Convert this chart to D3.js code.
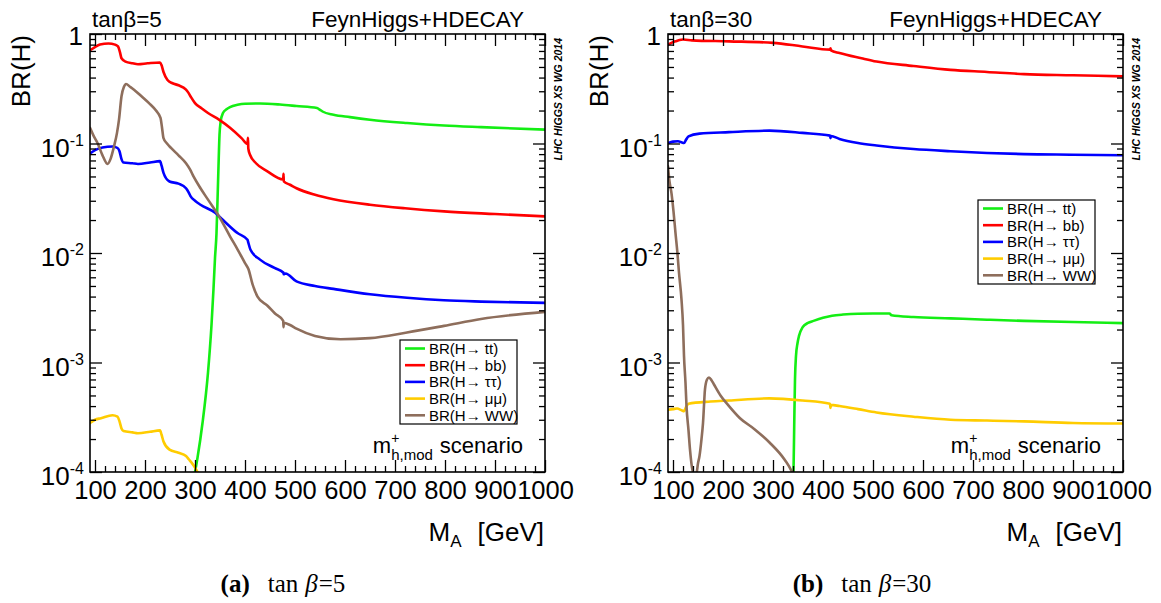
<!DOCTYPE html>
<html><head><meta charset="utf-8">
<script src="https://cdn.jsdelivr.net/npm/d3@7"></script>
<style>
body{margin:0;background:#fff;}
svg text{font-family:"Liberation Sans",Arial,Helvetica,sans-serif;}
</style></head><body>
<svg id="chart" width="1161" height="603"></svg>
<script>
// ---------------- data ----------------
const massDomain = [90, 1000];
const brDomain = [1e-4, 1];
const massTicks = [100, 200, 300, 400, 500, 600, 700, 800, 900, 1000];
const minorMassTicks = [120,140,160,180,220,240,260,280,320,340,360,380,420,440,460,480,520,540,560,580,620,640,660,680,720,740,760,780,820,840,860,880,920,940,960,980];
const decadeExponents = [0, -1, -2, -3, -4];
const seriesNames = ["BR(H\u2192 tt)", "BR(H\u2192 bb)", "BR(H\u2192 \u03c4\u03c4)", "BR(H\u2192 \u03bc\u03bc)", "BR(H\u2192 WW)"];
const seriesColors = ["#14ee14", "#ff0000", "#0000ff", "#ffcc00", "#8e6e5c"];
const tanBetaValues = [5, 30];
const panelLetters = ["(a)", "(b)"];

// tan beta = 5   [M_A (GeV), BR]
const tt_tb5 = [[298,0.00009],[300,0.0001],[305,0.000135],[315,0.00028],[326,0.00081],[333,0.0022],[337,0.0047],[340,0.009],[343,0.0152],[345,0.03],[347,0.062],[349,0.12],[351,0.155],[356,0.19],[363,0.205],[370,0.215],[385,0.226],[400,0.231],[430,0.232],[470,0.227],[503,0.22],[544,0.211],[550,0.203],[555,0.196],[577,0.183],[610,0.174],[650,0.165],[724,0.154],[798,0.146],[872,0.141],[1000,0.134]];
const bb_tb5 = [[90,0.71],[100,0.76],[110,0.80],[127,0.82],[140,0.80],[146,0.77],[150,0.68],[153,0.60],[161,0.56],[175,0.54],[186,0.53],[205,0.54],[230,0.55],[233,0.52],[237,0.45],[245,0.38],[255,0.355],[267,0.34],[282,0.31],[287,0.29],[292,0.265],[300,0.234],[313,0.21],[326,0.19],[348,0.165],[370,0.139],[393,0.112],[405,0.099],[406,0.113],[406.6,0.09],[410,0.079],[422,0.066],[444,0.056],[476.5,0.047],[477,0.053],[477.6,0.045],[490,0.042],[503,0.039],[540,0.034],[577,0.031],[650,0.0276],[720,0.0256],[798,0.024],[900,0.0227],[1000,0.0216]];
const tautau_tb5 = [[90,0.081],[100,0.087],[115,0.092],[135,0.094],[145,0.091],[149,0.085],[153,0.072],[157,0.067],[175,0.066],[186,0.065],[210,0.067],[230,0.069],[233,0.063],[237,0.054],[249,0.045],[267,0.043],[282,0.039],[287,0.036],[291,0.033],[300,0.030],[311,0.0276],[341,0.0232],[356,0.020],[385,0.0152],[405,0.0132],[406.5,0.0125],[411,0.0107],[430,0.0087],[459,0.0073],[477,0.0066],[477.5,0.0064],[481,0.0065],[503,0.0055],[540,0.005],[577,0.0047],[650,0.0042],[724,0.0039],[798,0.0037],[872,0.0036],[1000,0.0035]];
const mumu_tb5 = [[90,0.00028],[100,0.0003],[112,0.00031],[135,0.00033],[145,0.00032],[149,0.00029],[153,0.00025],[157,0.000237],[175,0.00023],[186,0.000226],[210,0.000233],[230,0.00024],[233,0.00022],[237,0.00019],[249,0.00016],[267,0.00015],[282,0.00014],[288,0.00013],[293,0.000122],[300,0.00011],[305,0.0001],[308,0.000095]];
const ww_tb5 = [[90,0.139],[97,0.118],[105,0.101],[115,0.078],[125,0.065],[131,0.072],[138,0.094],[144,0.125],[148,0.165],[153,0.27],[158,0.33],[162,0.35],[170,0.33],[178,0.31],[193,0.27],[208,0.234],[222,0.20],[231,0.171],[234,0.14],[237,0.112],[244,0.10],[252,0.091],[267,0.078],[282,0.066],[290,0.058],[297,0.05],[311,0.039],[326,0.0307],[348,0.0216],[370,0.0142],[385,0.0108],[400,0.0081],[407,0.0071],[415,0.0052],[425,0.0040],[445,0.0033],[460,0.0028],[476.5,0.0024],[477,0.0021],[477.5,0.0023],[490,0.0022],[503,0.00204],[540,0.00175],[591,0.00163],[650,0.00167],[724,0.00188],[798,0.00216],[872,0.0025],[1000,0.0029]];

// tan beta = 30
const tt_tb30 = [[340,0.00008],[341,0.0001],[342.5,0.00028],[344,0.0007],[346,0.00115],[349,0.0015],[352,0.00175],[359,0.00209],[370,0.0023],[381,0.0024],[400,0.00256],[418,0.00267],[440,0.00274],[470,0.00279],[500,0.0028],[533,0.0028],[537,0.0027],[581,0.0026],[655,0.00253],[728,0.00246],[802,0.0024],[900,0.00234],[1000,0.00229]];
const bb_tb30 = [[90,0.80],[97,0.83],[105,0.857],[113,0.88],[120,0.89],[138,0.875],[212,0.857],[300,0.83],[359,0.77],[414,0.72],[415,0.74],[416,0.71],[433,0.67],[477,0.60],[507,0.56],[581,0.51],[655,0.47],[728,0.45],[802,0.43],[900,0.42],[1000,0.41]];
const tautau_tb30 = [[90,0.101],[100,0.104],[110,0.105],[118,0.102],[122,0.101],[126,0.108],[131,0.116],[153,0.123],[212,0.127],[293,0.131],[359,0.125],[414,0.118],[415,0.112],[416,0.117],[433,0.110],[470,0.101],[507,0.096],[581,0.089],[655,0.085],[728,0.082],[802,0.080],[900,0.079],[1000,0.078]];
const mumu_tb30 = [[90,0.00037],[100,0.000375],[108,0.00038],[118,0.000365],[122,0.00036],[126,0.00039],[131,0.00042],[175,0.00044],[212,0.00045],[293,0.00047],[359,0.00045],[414,0.00042],[415,0.000385],[416,0.00041],[433,0.0004],[470,0.000375],[507,0.00035],[581,0.00032],[655,0.0003],[728,0.000295],[802,0.00029],[900,0.00028],[1000,0.000277]];
const ww_tb30 = [[90,0.062],[93,0.045],[97,0.035],[101,0.024],[105,0.0152],[109,0.0098],[112,0.0066],[117,0.00375],[120,0.0022],[122,0.00115],[125,0.00065],[127,0.0004],[131,0.00024],[134,0.00016],[138,0.00011],[142,0.000095],[147,0.000098],[150,0.00012],[153,0.00014],[157,0.0002],[160,0.00028],[164,0.00057],[168,0.0007],[172,0.00073],[177,0.00069],[182,0.00063],[195,0.0005],[212,0.0004],[234,0.00031],[263,0.000246],[293,0.000186],[323,0.00013],[338,0.0001],[342,0.00009]];

// ---------------- drawing ----------------
const SERIF = '"Liberation Serif", "DejaVu Serif", serif';
const svg = d3.select("#chart");
const defs = svg.append("defs");

const panels = [
  {left:90, right:545, top:34, bottom:472, legendTop:340, tanb:tanBetaValues[0], letter:panelLetters[0], captionX:283,
   series:[tt_tb5, bb_tb5, tautau_tb5, mumu_tb5, ww_tb5]},
  {left:668, right:1123, top:34, bottom:472, legendTop:200, tanb:tanBetaValues[1], letter:panelLetters[1], captionX:862,
   series:[tt_tb30, bb_tb30, tautau_tb30, mumu_tb30, ww_tb30]}
];

const minorBR = [];
for (let e = -4; e < 0; e++) for (let m = 2; m <= 9; m++) minorBR.push(m * Math.pow(10, e));
const decadeValues = decadeExponents.map(e => Math.pow(10, e));

panels.forEach((p, i) => {
  const x = d3.scaleLinear().domain(massDomain).range([p.left, p.right]);
  const y = d3.scaleLog().domain(brDomain).range([p.bottom, p.top]);
  const g = svg.append("g");

  defs.append("clipPath").attr("id", "clip" + i).append("rect")
    .attr("x", p.left).attr("y", p.top).attr("width", p.right - p.left).attr("height", p.bottom - p.top);

  const line = d3.line().x(d => x(d[0])).y(d => y(d[1])).curve(d3.curveMonotoneX);
  const curves = g.append("g").attr("clip-path", `url(#clip${i})`);
  p.series.forEach((s, k) => {
    curves.append("path").attr("d", line(s)).attr("fill", "none")
      .attr("stroke", seriesColors[k]).attr("stroke-width", 2.6)
      .attr("stroke-linejoin", "round").attr("stroke-linecap", "round");
  });

  // frame
  g.append("rect").attr("x", p.left).attr("y", p.top).attr("width", p.right - p.left).attr("height", p.bottom - p.top)
    .attr("fill", "none").attr("stroke", "#000").attr("stroke-width", 1.6);

  function ax(gen, tr) {
    const a = g.append("g").attr("transform", tr).call(gen);
    a.select(".domain").remove();
    a.selectAll("line").attr("stroke", "#000").attr("stroke-width", 1.3);
    return a;
  }
  const bx = ax(d3.axisBottom(x).tickValues(massTicks).tickSize(-12).tickSizeOuter(0).tickPadding(9).tickFormat(d => d), `translate(0,${p.bottom})`);
  bx.selectAll("text").attr("font-size", 25.5).attr("font-family", '"Liberation Sans", Arial, sans-serif').attr("fill", "#000");
  ax(d3.axisBottom(x).tickValues(minorMassTicks).tickSize(-6).tickFormat(""), `translate(0,${p.bottom})`);
  ax(d3.axisTop(x).tickValues(massTicks).tickSize(-12).tickFormat(""), `translate(0,${p.top})`);
  ax(d3.axisTop(x).tickValues(minorMassTicks).tickSize(-6).tickFormat(""), `translate(0,${p.top})`);
  ax(d3.axisLeft(y).tickValues(decadeValues).tickSize(-12).tickFormat(""), `translate(${p.left},0)`);
  ax(d3.axisLeft(y).tickValues(minorBR).tickSize(-6).tickFormat(""), `translate(${p.left},0)`);
  ax(d3.axisRight(y).tickValues(decadeValues).tickSize(-12).tickFormat(""), `translate(${p.right},0)`);
  ax(d3.axisRight(y).tickValues(minorBR).tickSize(-6).tickFormat(""), `translate(${p.right},0)`);

  // y tick labels
  decadeExponents.forEach(e => {
    const yy = y(Math.pow(10, e));
    if (e === 0) {
      g.append("text").attr("x", p.left - 7).attr("y", yy + 11).attr("text-anchor", "end")
        .attr("font-size", 26).text("1");
    } else {
      const t = g.append("text").attr("x", p.left - 6).attr("y", yy + 13).attr("text-anchor", "end").attr("font-size", 26);
      t.append("tspan").text("10");
      t.append("tspan").attr("font-size", 16).attr("dy", -11).text(String(e));
    }
  });

  // axis titles
  g.append("text").attr("transform", `translate(${p.left - 60},${p.top + 1}) rotate(-90)`)
    .attr("text-anchor", "end").attr("font-size", 26).text("BR(H)");
  const mt = g.append("text").attr("x", p.right - 1).attr("y", 541).attr("text-anchor", "end").attr("font-size", 26);
  mt.append("tspan").text("M");
  mt.append("tspan").attr("font-size", 17).attr("dy", 6).text("A");
  mt.append("tspan").attr("dy", -6).attr("dx", 16).text("[GeV]");

  // top texts
  g.append("text").attr("x", p.left + 2).attr("y", 27).attr("font-size", 22.5).text("tan\u03b2=" + p.tanb);
  g.append("text").attr("x", p.right - 21).attr("y", 27).attr("text-anchor", "end").attr("font-size", 22.5).text("FeynHiggs+HDECAY");

  // side stamp
  g.append("text").attr("transform", `translate(${p.right + 17},${p.top + 4}) rotate(-90)`)
    .attr("text-anchor", "end").attr("font-size", 10.5).attr("font-weight", "bold").attr("font-style", "italic")
    .text("LHC HIGGS XS WG 2014");

  // scenario label
  const st = g.append("text").attr("x", p.right - 22).attr("y", 453).attr("text-anchor", "end").attr("font-size", 22);
  st.append("tspan").text("m");
  st.append("tspan").attr("font-size", 14).attr("dy", -10).text("+");
  st.append("tspan").attr("font-size", 15).attr("dy", 17).attr("dx", -8.2).text("h,mod");
  st.append("tspan").attr("dy", -7).attr("dx", 7).text("scenario");

  // legend
  const lx = p.right - 145, lw = 117, lh = 84, ly = p.legendTop;
  const lg = g.append("g");
  lg.append("rect").attr("x", lx).attr("y", ly).attr("width", lw).attr("height", lh)
    .attr("fill", "#fff").attr("stroke", "#000").attr("stroke-width", 1.2);
  seriesNames.forEach((n, k) => {
    const cy = ly + 8.5 + k * 16.7;
    lg.append("line").attr("x1", lx + 5).attr("x2", lx + 25).attr("y1", cy).attr("y2", cy)
      .attr("stroke", seriesColors[k]).attr("stroke-width", 2.6);
    lg.append("text").attr("x", lx + 29).attr("y", cy + 5.5).attr("font-size", 15).text(n);
  });

  // caption
  const ct = svg.append("text").attr("x", p.captionX).attr("y", 592).attr("text-anchor", "middle")
    .attr("font-size", 25).style("font-family", SERIF);
  ct.append("tspan").attr("font-weight", "bold").text(p.letter);
  ct.append("tspan").attr("dx", 18).text("tan");
  ct.append("tspan").attr("dx", 7).attr("font-style", "italic").text("\u03b2");
  ct.append("tspan").attr("dx", 1).text("=" + p.tanb);
});
</script>
</body></html>
